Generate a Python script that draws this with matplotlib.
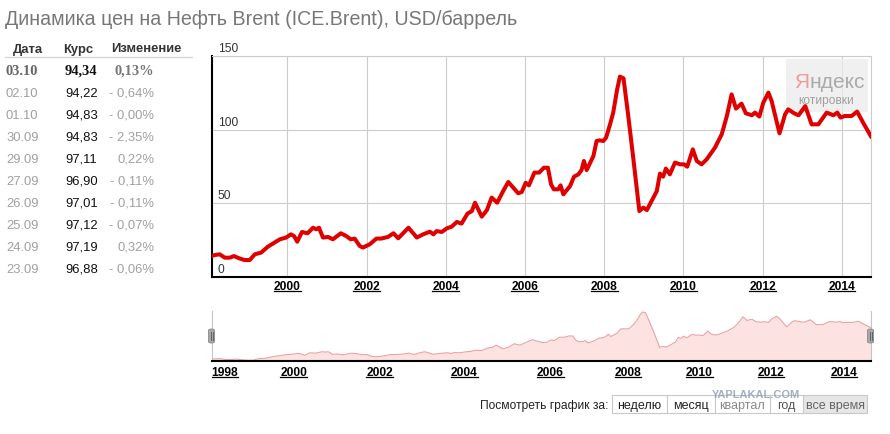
import numpy as np
import matplotlib
matplotlib.use("Agg")
import matplotlib.pyplot as plt
from matplotlib.patches import Rectangle, FancyBboxPatch
from matplotlib.lines import Line2D
from matplotlib.transforms import blended_transform_factory, offset_copy, IdentityTransform

plt.rcParams['font.family'] = ['Liberation Sans', 'DejaVu Sans']

# ---------------- data ----------------
title = "Динамика цен на Нефть Brent (ICE.Brent), USD/баррель"

table_header = ["Дата", "Курс", "Изменение"]
table_dates = ["03.10", "02.10", "01.10", "30.09", "29.09", "27.09", "26.09", "25.09", "24.09", "23.09"]
table_prices = [94.34, 94.22, 94.83, 94.83, 97.11, 96.90, 97.01, 97.12, 97.19, 96.88]
table_changes = [0.13, -0.64, -0.00, -2.35, 0.22, -0.11, -0.11, -0.07, 0.32, -0.06]

years = [1998.08, 1998.17, 1998.29, 1998.42, 1998.55, 1998.65, 1998.80, 1998.92,
         1999.05, 1999.18, 1999.34, 1999.51, 1999.68, 1999.81, 1999.97,
         2000.09, 2000.17, 2000.25, 2000.37, 2000.51, 2000.65, 2000.73, 2000.80, 2000.90,
         2001.03, 2001.15, 2001.35, 2001.49, 2001.60, 2001.70, 2001.83, 2001.91,
         2002.08, 2002.25, 2002.37, 2002.54, 2002.68, 2002.80,
         2003.06, 2003.27, 2003.43, 2003.60, 2003.69, 2003.77, 2003.90,
         2004.03, 2004.15, 2004.28, 2004.40, 2004.55, 2004.66, 2004.74, 2004.91,
         2005.04, 2005.16, 2005.30, 2005.45, 2005.58, 2005.83, 2005.92,
         2006.02, 2006.10, 2006.24, 2006.36, 2006.48, 2006.58, 2006.66, 2006.73, 2006.84, 2006.90, 2006.97,
         2007.14, 2007.24, 2007.35, 2007.43, 2007.49, 2007.56, 2007.73, 2007.81, 2007.88, 2007.98,
         2008.05, 2008.15, 2008.23, 2008.33, 2008.40, 2008.49, 2008.61, 2008.74, 2008.89, 2008.99,
         2009.08, 2009.20, 2009.33, 2009.41, 2009.49, 2009.56, 2009.66, 2009.79, 2009.92,
         2010.02, 2010.10, 2010.24, 2010.34, 2010.46, 2010.59, 2010.80, 2010.97,
         2011.10, 2011.22, 2011.33, 2011.47, 2011.58, 2011.73, 2011.81, 2011.92,
         2012.02, 2012.15, 2012.23, 2012.43, 2012.57, 2012.65, 2012.80, 2012.91,
         2013.08, 2013.24, 2013.41, 2013.62, 2013.79, 2013.89, 2013.97,
         2014.08, 2014.25, 2014.39, 2014.54, 2014.71, 2014.75]
prices = [14.1, 14.8, 15.3, 13.0, 13.0, 14.1, 12.4, 11.4,
          11.4, 15.3, 16.5, 20.5, 23.3, 25.5, 26.7,
          28.9, 27.7, 23.9, 30.5, 29.6, 33.4, 32.3, 33.4, 26.7,
          27.1, 25.5, 29.6, 27.7, 25.5, 26.0, 20.9, 19.9,
          22.1, 26.0, 26.0, 27.1, 29.6, 26.2,
          33.4, 26.7, 28.9, 30.7, 28.9, 31.1, 30.5,
          33.0, 34.1, 37.3, 36.2, 43.0, 44.7, 50.4, 40.9,
          45.4, 53.9, 50.4, 58.3, 64.5, 56.8, 57.7,
          64.0, 62.2, 70.9, 70.9, 74.2, 74.2, 62.9, 59.5, 59.5, 62.2, 56.1,
          61.7, 68.1, 69.7, 72.6, 78.8, 72.6, 82.2, 92.4, 92.8, 92.4,
          94.7, 103.7, 111.7, 127.6, 136.2, 135.0, 109.4, 79.9, 44.7, 47.1,
          45.4, 51.6, 58.3, 70.2, 68.1, 73.6, 69.7, 77.7, 76.5,
          76.5, 74.9, 86.7, 78.8, 76.5, 79.9, 87.9, 96.9,
          109.4, 124.1, 114.4, 117.8, 111.2, 109.9, 111.7, 109.0,
          118.5, 125.3, 119.6, 97.6, 110.5, 113.9, 111.2, 109.9,
          116.1, 103.7, 103.7, 111.7, 109.9, 111.7, 108.3,
          109.4, 109.4, 112.4, 104.9, 96.9, 95.0]

main_xticks = [2000, 2002, 2004, 2006, 2008, 2010, 2012, 2014]
main_yticks = [0, 50, 100, 150]
nav_tick_labels = ["1998", "2000", "2002", "2004", "2006", "2008", "2010", "2012", "2014"]
x_range = (1998.09, 2014.74)

buttons = ["неделю", "месяц", "квартал", "год", "все время"]

# ---------------- layout helpers ----------------
W, H = 890, 435
PT = 0.72  # points per pixel at 100 dpi


def fx(x):
    return x / W


def fy(y):
    return 1 - y / H


fig = plt.figure(figsize=(W / 100, H / 100), dpi=100, facecolor='white')

# Title
fig.text(fx(5), fy(25), title, fontsize=19.6 * PT, color='#777777', va='baseline', ha='left')

# ---------------- table ----------------
hdr_y = 52.5
hdr_font = dict(fontsize=13 * PT, fontweight='bold', color='#333333', va='baseline')
fig.text(fx(13), fy(hdr_y), table_header[0], **hdr_font)
fig.text(fx(63), fy(hdr_y), table_header[1], **hdr_font)
fig.text(fx(111), fy(hdr_y), table_header[2], **hdr_font)
fig.add_artist(Line2D([fx(5), fx(192)], [fy(57.5), fy(57.5)], color='#d8d8d8', lw=1.0, transform=fig.transFigure))


def fmt_price(v):
    return f"{v:.2f}".replace('.', ',')


def fmt_change(v):
    s = f"{abs(v):.2f}".replace('.', ',') + "%"
    return ("- " + s) if np.signbit(v) else s


for i, (d, p, c) in enumerate(zip(table_dates, table_prices, table_changes)):
    yb = 75 + 22 * i
    if i == 0:
        fp = dict(fontsize=14.5 * PT, fontweight='bold', family=['Liberation Serif', 'DejaVu Serif'])
        fig.text(fx(6), fy(yb), d, color='#666666', va='baseline', **fp)
        fig.text(fx(65), fy(yb), fmt_price(p), color='#111111', va='baseline', **fp)
        fig.text(fx(154), fy(yb), fmt_change(c), color='#777777', va='baseline', ha='right', **fp)
    else:
        fig.text(fx(6), fy(yb), d, color='#a0a0a0', va='baseline', fontsize=13 * PT)
        fig.text(fx(65), fy(yb), fmt_price(p), color='#111111', va='baseline', fontsize=13 * PT)
        fig.text(fx(154), fy(yb), fmt_change(c), color='#a0a0a0', va='baseline', ha='right', fontsize=13 * PT)

# ---------------- main chart ----------------
L, R, T, B = 211.7, 871.0, 57.3, 277.8
ax = fig.add_axes([fx(L), fy(B), (R - L) / W, (B - T) / H])
ax.plot(years, prices, color='#e00000', lw=2.9, solid_joinstyle='round', solid_capstyle='round', zorder=3)
ax.set_xlim(*x_range)
ax.set_ylim(0, 150)
ax.set_xticks(main_xticks)
ax.set_xticklabels([str(t) for t in main_xticks])
ax.set_yticks(main_yticks)
ax.set_yticklabels([])
ax.grid(True, color='#cccccc', lw=0.8, zorder=0)
ax.set_axisbelow(True)
ax.tick_params(axis='both', length=0)
ax.tick_params(axis='x', pad=3 * PT, labelsize=12 * PT, labelcolor='#000000')
for t in ax.get_xticklabels():
    t.set_fontweight('bold')
for s in ('left', 'bottom'):
    ax.spines[s].set_color('#000000')
    ax.spines[s].set_linewidth(1.5)
for s in ('top', 'right'):
    ax.spines[s].set_color('#cccccc')
    ax.spines[s].set_linewidth(0.8)

blend = blended_transform_factory(ax.transAxes, ax.transData)
for v in main_yticks:
    ax.text(0, v, str(v), transform=offset_copy(blend, fig, x=6, y=5, units='dots'),
            fontsize=12 * PT, color='#333333', ha='left', va='baseline')

# Yandex badge
bx0, bx1, by0, by1 = 786, 868, 59.5, 113
ax.add_patch(Rectangle(((bx0 - L) / (R - L), (B - by1) / (B - T)), (bx1 - bx0) / (R - L), (by1 - by0) / (B - T),
                       transform=ax.transAxes, fc='#ececec', ec='none', alpha=0.75, zorder=2))
ya_font = dict(fontsize=21 * PT, family=['Liberation Sans', 'DejaVu Sans'], va='baseline', ha='left')
ya_pos = ((794 - L) / (R - L), (B - 88) / (B - T))
ya1 = ax.text(*ya_pos, "Я", transform=ax.transAxes, color='#ec9c9c', zorder=2.6, **ya_font)
ax.text((826.5 - L) / (R - L), (B - 104) / (B - T), "котировки", transform=ax.transAxes, color='#a0a0a0',
        fontsize=12 * PT, ha='center', va='baseline', zorder=2.5)

# ---------------- navigator ----------------
NT, NB = 312, 361.7
ax2 = fig.add_axes([fx(L), fy(NB), (R - L) / W, (NB - NT) / H])
nav_anchor_years = np.array([1990.0, 1998.0, 2000, 2002, 2004, 2006, 2008, 2010, 2012, 2014, 2020])
nav_anchor_px = np.array([207.7 - 8 * 43.0, 207.7, 293.7, 379.7, 464.0, 550.0, 627.8, 699.0, 770.8, 843.7, 843.7 + 6 * 36.5])


def nav_fwd(v):
    return np.interp(np.asarray(v, dtype=float), nav_anchor_years, nav_anchor_px)


def nav_inv(p):
    return np.interp(np.asarray(p, dtype=float), nav_anchor_px, nav_anchor_years)


ax2.set_xscale('function', functions=(nav_fwd, nav_inv))
ax2.fill_between(years, prices, 0, color='#fde2e2', lw=0, zorder=1)
ax2.plot(years, prices, color='#e9a3a3', lw=0.8, zorder=2)
ax2.set_xlim(*x_range)
ax2.set_ylim(10, 139)
ax2.set_yticks([])
nav_ticks = [x_range[0]] + main_xticks
ax2.set_xticks(nav_ticks)
ax2.set_xticklabels(nav_tick_labels)
ax2.xaxis.set_minor_locator(matplotlib.ticker.NullLocator())
ax2.tick_params(axis='x', length=0, pad=5 * PT, labelsize=12 * PT, labelcolor='#000000')
for i, t in enumerate(ax2.get_xticklabels()):
    t.set_fontweight('bold')
    if i == 0:
        t.set_ha('left')
ax2.spines['top'].set_visible(False)
ax2.spines['bottom'].set_color('#000000')
ax2.spines['bottom'].set_linewidth(1.5)
for s in ('left', 'right'):
    ax2.spines[s].set_color('#c4c4c4')
    ax2.spines[s].set_linewidth(0.8)

# navigator handles
for hx in (211.5, 870.5):
    fig.add_artist(FancyBboxPatch((fx(hx - 3), fy(344)), 6 / W, 14 / H,
                                  boxstyle="round,pad=0,rounding_size=0.003",
                                  transform=fig.transFigure, fc='#a8a8a8', ec='#8a8a8a', lw=0.6, zorder=5))
    for dx in (-1.0, 1.0):
        fig.add_artist(Line2D([fx(hx + dx), fx(hx + dx)], [fy(341), fy(333)], color='#555555', lw=0.6,
                              transform=fig.transFigure, zorder=6))

# ---------------- buttons ----------------
by_top, by_bot = 396, 414
edges = [611.7, 666.7, 715.0, 770.0, 803.3, 866.7]
fig.add_artist(Rectangle((fx(edges[4]), fy(by_bot)), (edges[5] - edges[4]) / W, (by_bot - by_top) / H,
                         transform=fig.transFigure, fc='#e6e6e6', ec='none', zorder=1))
fig.add_artist(Rectangle((fx(edges[0]), fy(by_bot)), (edges[5] - edges[0]) / W, (by_bot - by_top) / H,
                         transform=fig.transFigure, fc='none', ec='#c8c8c8', lw=0.8, zorder=2))
for e in edges[1:-1]:
    fig.add_artist(Line2D([fx(e), fx(e)], [fy(by_top), fy(by_bot)], color='#c8c8c8', lw=0.8,
                          transform=fig.transFigure, zorder=2))
fig.text(fx(756), fy(395.5), "YAPLAKAL.COM", fontsize=11 * PT, fontweight='bold', color='#8c9cb2',
         ha='center', va='center', alpha=0.8, zorder=3)
btn_colors = ['#222222', '#222222', '#8a8a8a', '#555555', '#666666']
for i, (lab, col) in enumerate(zip(buttons, btn_colors)):
    cx = (edges[i] + edges[i + 1]) / 2
    fig.text(fx(cx), fy(406.5), lab, fontsize=12.5 * PT, color=col, ha='center', va='center', zorder=4)
fig.text(fx(608), fy(406.5), "Посмотреть график за:", fontsize=12 * PT, color='#222222',
         ha='right', va='center')

# ---------------- post-layout: Yandex word + underlines ----------------
fig.canvas.draw()
renderer = fig.canvas.get_renderer()
bb_ya = ya1.get_window_extent(renderer)
x0_disp = ax.transAxes.transform(ya_pos)[0]
ax.text(*ya_pos, "ндекс", transform=offset_copy(ax.transAxes, fig, x=bb_ya.x1 - x0_disp, y=0, units='dots'),
        color='#aaaaaa', zorder=2.5, **ya_font)

for a in (ax, ax2):
    for t in a.get_xticklabels():
        if not t.get_visible() or not t.get_text():
            continue
        bb = t.get_window_extent(renderer)
        yl = bb.y0 + 1.2
        fig.add_artist(Line2D([bb.x0, bb.x1], [yl, yl], color='#000000', lw=0.9,
                              transform=IdentityTransform()))

fig.savefig("out.png", dpi=100, facecolor='white')
